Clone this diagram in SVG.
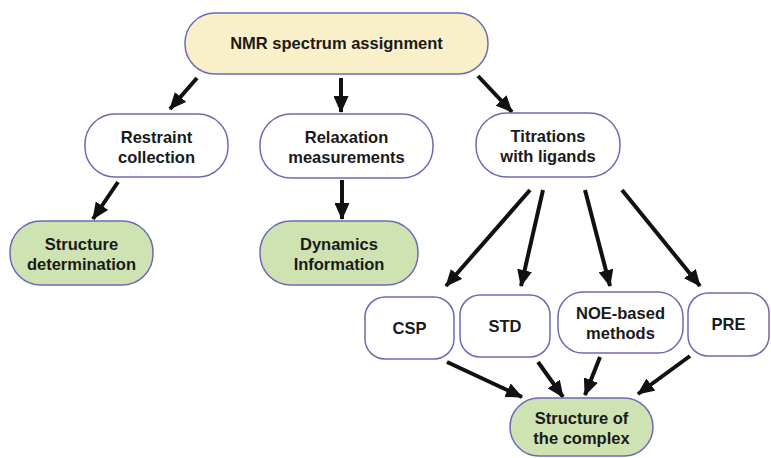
<svg xmlns="http://www.w3.org/2000/svg" width="771" height="458" viewBox="0 0 771 458">
<defs>
<marker id="ah" markerUnits="userSpaceOnUse" markerWidth="17" markerHeight="15" viewBox="0 0 17 15" refX="16" refY="7.5" orient="auto">
<path d="M0,0 L17,7.5 L0,15 Z" fill="#111"/>
</marker>
<style>
.n{stroke:#6b6bb5;stroke-width:1.5}
.w{fill:#ffffff}
.y{fill:#f9efc8}
.g{fill:#cfe2b2}
.t{font-family:"Liberation Sans",Arial,sans-serif;font-weight:bold;font-size:16.5px;fill:#1a1a1a;text-anchor:middle}
.c line{stroke:#111;stroke-width:4;marker-end:url(#ah)}
</style>
</defs>
<rect width="771" height="458" fill="#ffffff"/>
<g class="c" id="connectors">
<line x1="197" y1="78" x2="170" y2="109"/>
<line x1="341" y1="78" x2="341" y2="112"/>
<line x1="478" y1="76" x2="512" y2="112"/>
<line x1="118" y1="182" x2="93" y2="219"/>
<line x1="342" y1="180" x2="342" y2="219"/>
<line x1="530" y1="190" x2="446" y2="286"/>
<line x1="543" y1="190" x2="521" y2="286"/>
<line x1="585" y1="190" x2="610" y2="286"/>
<line x1="622" y1="190" x2="700" y2="286"/>
<line x1="447" y1="362" x2="522" y2="397"/>
<line x1="538" y1="362" x2="563" y2="397"/>
<line x1="600" y1="357" x2="585" y2="395"/>
<line x1="690" y1="356" x2="638" y2="394"/>
</g>
<g id="nmr"><rect class="n y" x="185" y="13" width="303" height="61" rx="30"/><text class="t" x="336.5" y="49">NMR spectrum assignment</text></g>
<g id="restraint"><rect class="n w" x="85" y="114" width="143" height="63" rx="30"/><text class="t" x="156.5" y="143">Restraint</text><text class="t" x="156.5" y="163">collection</text></g>
<g id="relaxation"><rect class="n w" x="260" y="114" width="173" height="64" rx="31"/><text class="t" x="346.5" y="143">Relaxation</text><text class="t" x="346.5" y="163">measurements</text></g>
<g id="titrations"><rect class="n w" x="476" y="113" width="144" height="64" rx="31"/><text class="t" x="548" y="142">Titrations</text><text class="t" x="548" y="162">with ligands</text></g>
<g id="structdet"><rect class="n g" x="10" y="221" width="143" height="64" rx="31"/><text class="t" x="81.5" y="250">Structure</text><text class="t" x="81.5" y="270">determination</text></g>
<g id="dynamics"><rect class="n g" x="260" y="221" width="158" height="64" rx="31"/><text class="t" x="339" y="250">Dynamics</text><text class="t" x="339" y="270">Information</text></g>
<g id="csp"><rect class="n w" x="365" y="297" width="89" height="62" rx="20"/><text class="t" x="409.5" y="334">CSP</text></g>
<g id="std"><rect class="n w" x="460" y="295" width="90" height="62" rx="20"/><text class="t" x="505" y="332">STD</text></g>
<g id="noe"><rect class="n w" x="558" y="292" width="125" height="61" rx="25"/><text class="t" x="620.5" y="319">NOE-based</text><text class="t" x="620.5" y="339">methods</text></g>
<g id="pre"><rect class="n w" x="688" y="293" width="81" height="63" rx="20"/><text class="t" x="728.5" y="330">PRE</text></g>
<g id="complex"><rect class="n g" x="510" y="398" width="143" height="58" rx="29"/><text class="t" x="581.5" y="424">Structure of</text><text class="t" x="581.5" y="444">the complex</text></g>
</svg>
